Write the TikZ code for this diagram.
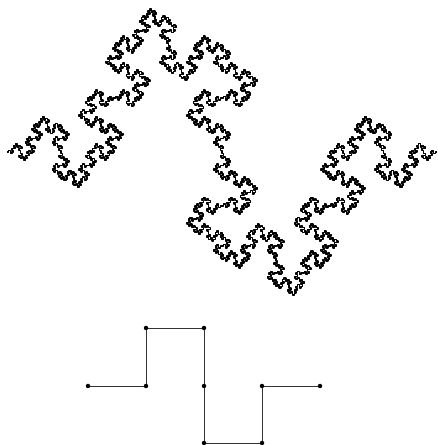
\documentclass[tikz,border=0pt]{standalone}
\usepackage{tikz}
\usetikzlibrary{lindenmayersystems}

% Minkowski sausage: F -> F+F-F-FF+F+F-F
\pgfdeclarelindenmayersystem{Minkowski}{%
  \rule{F -> F+F-F-FF+F+F-F}%
}

\begin{document}
\begin{tikzpicture}[
  x=1pt, y=1pt,
  curve/.style={black, line width=1.5pt, line join=round},
  genline/.style={black!80, line width=0.7pt},
  gendot/.style={circle, fill=black, inner sep=0pt, minimum size=4.5pt},
]
\useasboundingbox (0,0) rectangle (438,445);

% fractal, order 4 -> 256 steps across
\begin{scope}[shift={(7,293)}]
  \draw[curve, l-system={Minkowski, axiom=F, order=4, step=1.68pt, angle=90}]
    (0,0) l-system;
\end{scope}

% generator below: 4 units of 58 across
\foreach \n/\px/\py in {0/88/59, 1/146/59, 2/146/117, 3/204/117, 4/204/59,
                        5/204/2, 6/262/2, 7/262/59, 8/320/59} {
  \node[gendot] (p\n) at (\px,\py) {};
}
\draw[genline] (p0) -- (p1) -- (p2) -- (p3) -- (p4) -- (p5) -- (p6) -- (p7) -- (p8);
\end{tikzpicture}
\end{document}
